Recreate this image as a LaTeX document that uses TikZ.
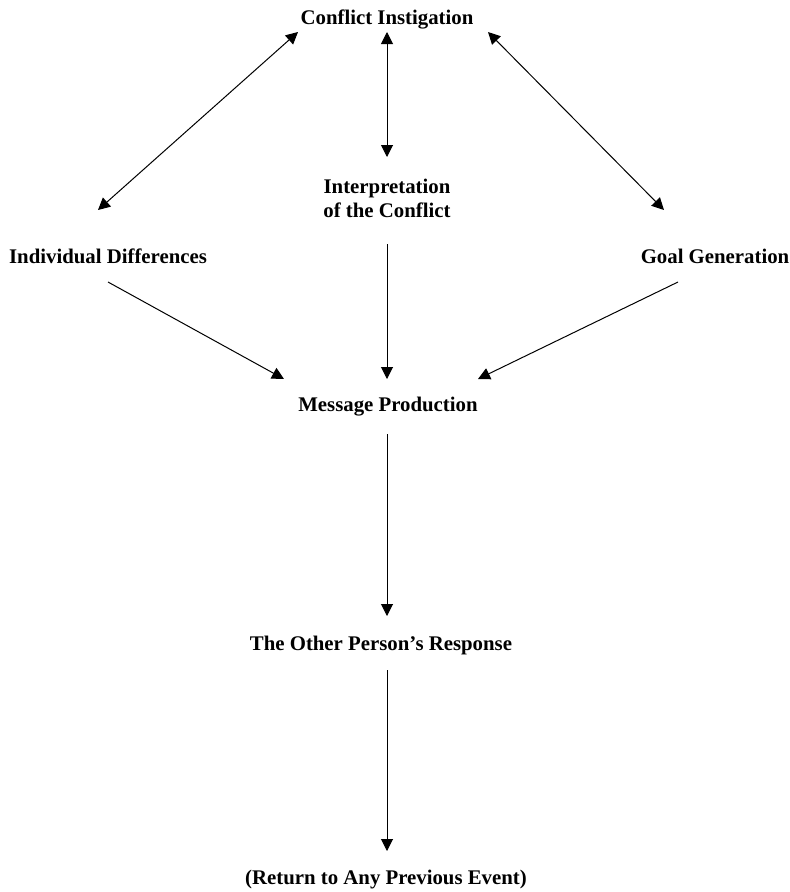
\documentclass[tikz,border=0pt]{standalone}
\usepackage{fontspec}
\setmainfont{Liberation Serif}
\usetikzlibrary{arrows.meta}
\begin{document}
\begin{tikzpicture}[x=1pt,y=-1pt,
  lbl/.style={font=\fontsize{20.8}{24}\selectfont\bfseries, inner sep=0pt, anchor=base, align=center},
  conn/.style={line width=1pt, -{Triangle[length=12pt,width=12pt]}},
  bconn/.style={line width=1pt, {Triangle[length=12pt,width=12pt]}-{Triangle[length=12pt,width=12pt]}}]
\useasboundingbox (0,0) rectangle (790,892);
\node[lbl] (ci) at (387,24) {Conflict Instigation};
\node[lbl] (int) at (387,217) {Interpretation\\of the Conflict};
\node[lbl] (id) at (108,263) {Individual Differences};
\node[lbl] (gg) at (715,263) {Goal Generation};
\node[lbl] (mp) at (388,411) {Message Production};
\node[lbl] (opr) at (381,650) {The Other Person’s Response};
\node[lbl] (ret) at (386,884) {(Return to Any Previous Event)};
% connectors
\draw[bconn] ([shift={(-89,8)}]ci.base) -- ([shift={(-10,-53)}]id.base);
\draw[bconn] ([shift={(0,8)}]ci.base) -- ([shift={(0,-60)}]int.base);
\draw[bconn] ([shift={(101,8)}]ci.base) -- ([shift={(-51,-53)}]gg.base);
\draw[conn] ([shift={(0,19)}]id.base) -- ([shift={(-104,-32)}]mp.base);
\draw[conn] ([shift={(0,27)}]int.base) -- ([shift={(-1,-32)}]mp.base);
\draw[conn] ([shift={(-37,19)}]gg.base) -- ([shift={(90,-32)}]mp.base);
\draw[conn] ([shift={(-1,23)}]mp.base) -- ([shift={(6,-34)}]opr.base);
\draw[conn] ([shift={(6,20)}]opr.base) -- ([shift={(1,-33)}]ret.base);
\end{tikzpicture}
\end{document}
